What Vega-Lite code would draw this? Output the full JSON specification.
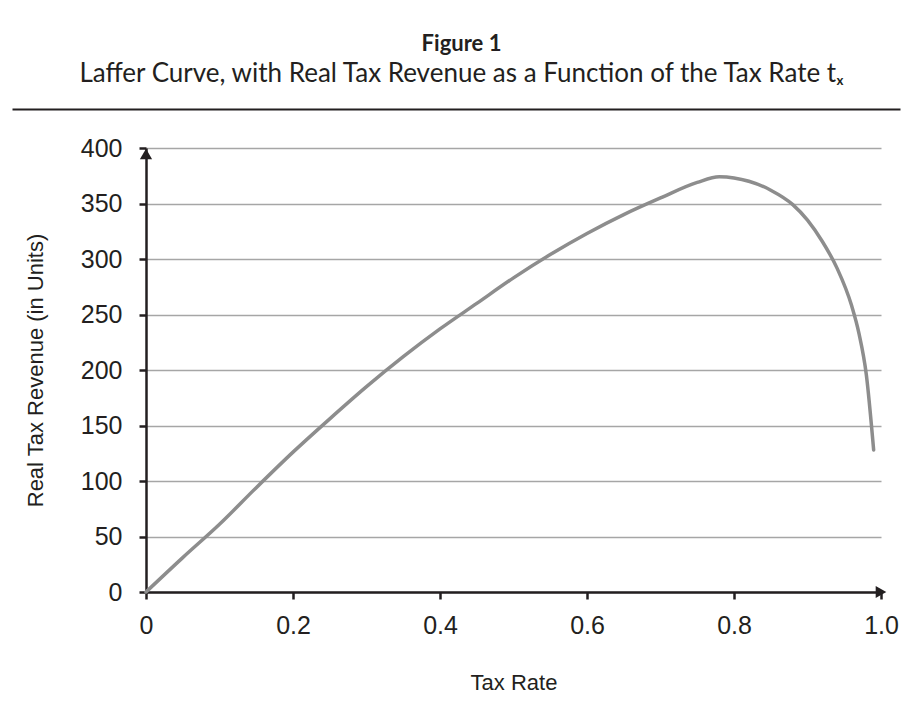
{
  "$schema": "https://vega.github.io/schema/vega-lite/v6.json",
  "width": 735,
  "height": 444,
  "autosize": {"type": "none"},
  "padding": {"left": 146, "top": 148, "right": 32, "bottom": 115},
  "background": "white",
  "config": {"view": {"stroke": null}},
  "title": {
    "text": "Figure 1",
    "subtitle": "Laffer Curve, with Real Tax Revenue as a Function of the Tax Rate tₓ",
    "anchor": "middle",
    "frame": "group",
    "dx": -52,
    "font": "Lato",
    "fontSize": 22,
    "fontWeight": "bold",
    "color": "#231f20",
    "subtitleFont": "Lato",
    "subtitleFontSize": 26,
    "subtitleColor": "#231f20",
    "subtitlePadding": 5,
    "offset": 21
  },
  "resolve": {"scale": {"x": "independent"}},
  "layer": [
    {
      "data": {"values": [
        {"t": 0, "revenue": 0},
        {"t": 0.05, "revenue": 31},
        {"t": 0.1, "revenue": 61},
        {"t": 0.15, "revenue": 94},
        {"t": 0.2, "revenue": 126},
        {"t": 0.25, "revenue": 156},
        {"t": 0.3, "revenue": 185},
        {"t": 0.35, "revenue": 212},
        {"t": 0.4, "revenue": 237},
        {"t": 0.45, "revenue": 260},
        {"t": 0.5, "revenue": 283},
        {"t": 0.55, "revenue": 304},
        {"t": 0.6, "revenue": 323},
        {"t": 0.65, "revenue": 340},
        {"t": 0.7, "revenue": 355},
        {"t": 0.75, "revenue": 369},
        {"t": 0.78, "revenue": 374},
        {"t": 0.8, "revenue": 373},
        {"t": 0.85, "revenue": 362},
        {"t": 0.88, "revenue": 349},
        {"t": 0.9, "revenue": 335},
        {"t": 0.92, "revenue": 316},
        {"t": 0.94, "revenue": 292},
        {"t": 0.96, "revenue": 258},
        {"t": 0.97, "revenue": 233},
        {"t": 0.98, "revenue": 196},
        {"t": 0.99, "revenue": 128}
      ]},
      "mark": {"type": "line", "interpolate": "monotone", "color": "#8d8d8d", "strokeWidth": 3.5, "strokeCap": "round"},
      "encoding": {
        "x": {
          "field": "t", "type": "quantitative",
          "scale": {"domain": [0, 1], "nice": false, "zero": false},
          "axis": {
            "orient": "bottom",
            "title": "Tax Rate",
            "values": [0, 0.2, 0.4, 0.6, 0.8, 1.0],
            "labelExpr": "datum.value == 0 ? '0' : format(datum.value, '.1f')",
            "labelFlush": false,
            "grid": false,
            "domainColor": "#231f20", "domainWidth": 2.5,
            "tickColor": "#231f20", "tickWidth": 2.5, "tickSize": 7,
            "labelFont": "Liberation Sans", "labelFontSize": 25, "labelColor": "#231f20", "labelPadding": 14,
            "titleFont": "Liberation Sans", "titleFontSize": 22, "titleFontWeight": "normal", "titleColor": "#231f20", "titlePadding": 34
          }
        },
        "y": {
          "field": "revenue", "type": "quantitative",
          "scale": {"domain": [0, 400], "nice": false},
          "axis": {
            "title": "Real Tax Revenue (in Units)",
            "values": [0, 50, 100, 150, 200, 250, 300, 350, 400],
            "labelFlush": false,
            "grid": true, "gridColor": "#a6a6a6", "gridWidth": 1.3,
            "domainColor": "#231f20", "domainWidth": 2.5,
            "tickColor": "#231f20", "tickWidth": 2.5, "tickSize": 7,
            "labelFont": "Liberation Sans", "labelFontSize": 25, "labelColor": "#231f20", "labelPadding": 17,
            "titleFont": "Liberation Sans", "titleFontSize": 22, "titleFontWeight": "normal", "titleColor": "#231f20", "titlePadding": 33
          }
        }
      }
    },
    {
      "data": {"values": [{"t": 0, "revenue": 400}]},
      "mark": {"type": "point", "shape": "triangle-up", "filled": true, "color": "#231f20", "size": 150, "opacity": 1, "yOffset": 6},
      "encoding": {
        "x": {"field": "t", "type": "quantitative", "scale": {"domain": [0, 1], "nice": false, "zero": false}, "axis": null},
        "y": {"field": "revenue", "type": "quantitative"}
      }
    },
    {
      "data": {"values": [{"t": 1, "revenue": 0}]},
      "mark": {"type": "point", "shape": "triangle-right", "filled": true, "color": "#231f20", "size": 150, "opacity": 1},
      "encoding": {
        "x": {"field": "t", "type": "quantitative", "scale": {"domain": [0, 1], "nice": false, "zero": false}, "axis": null},
        "y": {"field": "revenue", "type": "quantitative"}
      }
    },
    {
      "data": {"values": [{"t": 0, "revenue": 0}]},
      "mark": {"type": "point", "opacity": 0},
      "encoding": {
        "x": {"field": "t", "type": "quantitative",
          "scale": {"domain": [0, 1], "nice": false, "zero": false, "range": [-134, 754]},
          "axis": {"orient": "top", "offset": 39, "title": null, "labels": false, "ticks": false, "grid": false,
                   "domainColor": "#231f20", "domainWidth": 2}},
        "y": {"field": "revenue", "type": "quantitative"}
      }
    }
  ]
}
